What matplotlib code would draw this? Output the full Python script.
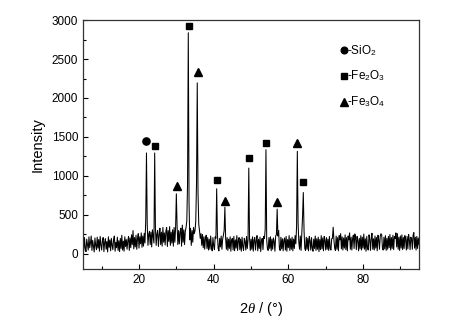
import numpy as np
import matplotlib
matplotlib.use("Agg")
import matplotlib.pyplot as plt
from matplotlib.ticker import MultipleLocator

plt.rcParams['font.family'] = ['Liberation Sans', 'DejaVu Sans']
plt.rcParams['mathtext.fontset'] = 'custom'
plt.rcParams['mathtext.rm'] = 'Liberation Sans'
plt.rcParams['mathtext.it'] = 'Liberation Serif:italic'

# 2theta grid (degrees), 0.2 deg step from 5 to 95
two_theta = np.arange(451) * 0.2 + 5.0

intensity = [
    160, 40, 210, 70, 30, 190, 120, 50, 220, 80,
    140, 230, 45, 175, 95, 25, 205, 110, 55, 215,
    75, 185, 35, 225, 120, 50, 170, 210, 30, 150,
    195, 60, 160, 25, 220, 85, 180, 40, 200, 110,
    55, 190, 230, 35, 150, 80, 215, 45, 170, 30,
    200, 70, 240, 50, 165, 35, 220, 95, 185, 60,
    170, 225, 45, 205, 80, 245, 120, 300, 65, 210,
    90, 240, 60, 195, 260, 75, 220, 130, 270, 85,
    230, 100, 265, 140, 420, 1295, 380, 110, 250, 290,
    120, 280, 90, 310, 220, 140, 1295, 330, 110, 260,
    300, 95, 250, 330, 120, 280, 100, 340, 150, 270,
    115, 290, 340, 95, 300, 160, 350, 110, 280, 140,
    310, 100, 340, 150, 330, 771, 360, 120, 300, 130,
    280, 330, 100, 370, 150, 310, 120, 290, 340, 420,
    900, 2837, 650, 180, 330, 110, 300, 150, 340, 260,
    300, 420, 900, 2194, 800, 380, 300, 200, 260, 110,
    250, 80, 220, 60, 200, 240, 70, 210, 50, 190,
    60, 230, 90, 40, 210, 100, 55, 220, 200, 836,
    250, 70, 40, 200, 90, 230, 60, 190, 240, 300,
    600, 200, 60, 210, 45, 190, 70, 220, 35, 180,
    200, 50, 225, 40, 180, 75, 235, 45, 170, 210,
    55, 190, 35, 215, 90, 45, 200, 160, 50, 225,
    70, 180, 1101, 200, 45, 190, 60, 220, 35, 180,
    210, 50, 175, 235, 40, 190, 70, 215, 30, 170,
    200, 55, 225, 200, 320, 1337, 180, 60, 45, 210,
    70, 220, 40, 190, 60, 205, 160, 35, 230, 250,
    575, 230, 300, 70, 45, 215, 65, 195, 40, 180,
    205, 50, 225, 35, 185, 80, 235, 45, 195, 60,
    215, 40, 190, 70, 235, 130, 350, 1316, 400, 150,
    60, 230, 45, 250, 480, 788, 300, 70, 45, 215,
    60, 200, 40, 225, 170, 50, 210, 75, 35, 190,
    70, 230, 45, 195, 60, 215, 30, 185, 55, 235,
    65, 205, 40, 225, 175, 50, 210, 60, 190, 45,
    225, 70, 50, 195, 200, 343, 180, 75, 45, 230,
    60, 210, 40, 235, 180, 260, 65, 220, 50, 205,
    75, 245, 55, 210, 40, 230, 180, 270, 60, 215,
    50, 195, 240, 70, 257, 210, 55, 225, 175, 40,
    200, 65, 235, 50, 215, 75, 255, 60, 195, 35,
    225, 70, 50, 245, 185, 45, 210, 265, 60, 195,
    50, 230, 75, 210, 40, 240, 180, 60, 225, 260,
    244, 70, 50, 215, 65, 235, 45, 200, 60, 225,
    80, 250, 50, 210, 70, 240, 55, 225, 200, 270,
    90, 260, 60, 215, 45, 230, 75, 245, 55, 210,
    70, 235, 185, 50, 225, 65, 250, 180, 55, 215,
    195, 60, 240, 274, 75, 215, 50, 225, 70, 205,
    120,
]

# phase markers: (2theta, marker height)
sio2_x = [22.0]
sio2_y = [1453]
fe2o3_x = [24.3, 33.3, 40.8, 49.5, 54.0, 64.0]
fe2o3_y = [1380, 2923, 951, 1230, 1423, 917]
fe3o4_x = [30.1, 35.7, 43.0, 57.05, 62.4]
fe3o4_y = [865, 2331, 681, 660, 1423]

legend_labels = ['-SiO$_2$', '-Fe$_2$O$_3$', '-Fe$_3$O$_4$']

fig = plt.figure(figsize=(4.55, 3.23), dpi=100)
ax = fig.add_axes([0.1824, 0.1672, 0.7386, 0.7708])

ax.plot(two_theta, intensity, color='black', lw=0.75)
ax.plot(sio2_x, sio2_y, 'o', color='black', ms=5.2, ls='none')
ax.plot(fe2o3_x, fe2o3_y, 's', color='black', ms=4.6, ls='none')
ax.plot(fe3o4_x, fe3o4_y, '^', color='black', ms=6, ls='none')

ax.set_xlim(5, 95)
ax.set_ylim(-193, 3000)
ax.xaxis.set_major_locator(MultipleLocator(20))
ax.xaxis.set_minor_locator(MultipleLocator(10))
ax.yaxis.set_major_locator(MultipleLocator(500))
ax.yaxis.set_minor_locator(MultipleLocator(250))
ax.tick_params(which='both', direction='in', top=False, right=False, labelsize=8.5)
ax.tick_params(which='major', length=3.5, width=0.8)
ax.tick_params(which='minor', length=2, width=0.8)
for s in ax.spines.values():
    s.set_linewidth(0.9)
    s.set_color('#333333')

ax.set_ylabel('Intensity', fontsize=10.5, labelpad=5)
ax.set_xlabel(r'2$\it{\theta}$ / (°)', fontsize=10.5)
ax.xaxis.set_label_coords(0.53, -0.125)

# legend drawn in axes coordinates
mk = ['o', 's', '^']
mks = [4.8, 4.2, 5.2]
ys = [0.878, 0.776, 0.672]
for m, s_, yy, lab in zip(mk, mks, ys, legend_labels):
    ax.plot([0.777], [yy], m, color='black', ms=s_, transform=ax.transAxes, clip_on=False)
    ax.text(0.787, yy, lab, transform=ax.transAxes, fontsize=8.5, va='center', ha='left')

fig.savefig('out.png', dpi=100)
